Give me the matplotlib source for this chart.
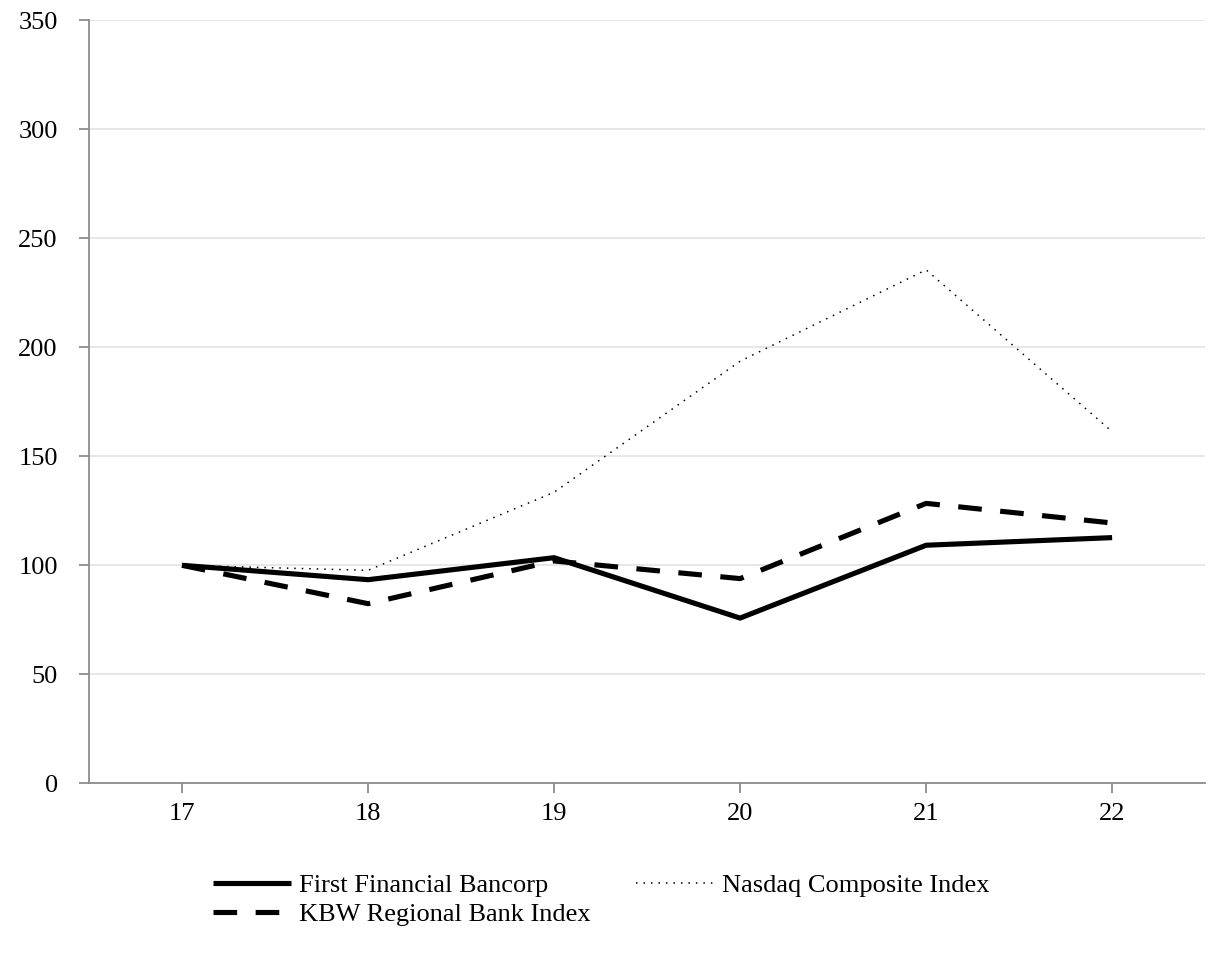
from matplotlib import pyplot as plt

plt.rcParams['font.family'] = ['Liberation Serif', 'DejaVu Serif']

years = ["17", "18", "19", "20", "21", "22"]
first_financial = [100, 93.4, 103.5, 75.8, 109.2, 112.7]
kbw_regional = [100, 82.4, 102.0, 93.9, 128.4, 119.4]
nasdaq_composite = [100, 97.7, 133.5, 193.6, 235.5, 161.3]

x = list(range(17, 23))

fig = plt.figure(figsize=(12.26, 9.6), dpi=100)
ax = fig.add_axes([0.0726, 0.184, 0.9104, 0.795])

ax.plot(x, first_financial, color="black", lw=3.7, solid_capstyle="butt",
        label="First Financial Bancorp")
ax.plot(x, kbw_regional, color="black", lw=3.7, dashes=(4.6, 3.6),
        label="KBW Regional Bank Index")
ax.plot(x, nasdaq_composite, color="black", lw=1.1, dashes=(1, 3.9),
        label="Nasdaq Composite Index")

ax.set_xlim(16.5, 22.5)
ax.set_ylim(0, 350)
ax.set_yticks(range(0, 351, 50))
ax.set_xticks(x)
ax.set_xticklabels(years)
ax.yaxis.grid(True, color="#e3e3e3", lw=1.2)
ax.set_axisbelow(True)

for side in ("top", "right"):
    ax.spines[side].set_visible(False)
for side in ("left", "bottom"):
    ax.spines[side].set_color("#8c8c8c")
    ax.spines[side].set_linewidth(1.3)
ax.tick_params(axis="both", colors="#8c8c8c", length=7.5, width=1.3,
               labelsize=19, labelcolor="black")
ax.tick_params(axis="y", pad=15)
ax.tick_params(axis="x", pad=7)

fig.legend(loc="upper left", bbox_to_anchor=(0.165, 0.101), ncol=2,
           frameon=False, fontsize=19, handlelength=2.95, handletextpad=0.3,
           columnspacing=1.75, labelspacing=0.2, borderaxespad=0)

fig.savefig("out.png", dpi=100)
